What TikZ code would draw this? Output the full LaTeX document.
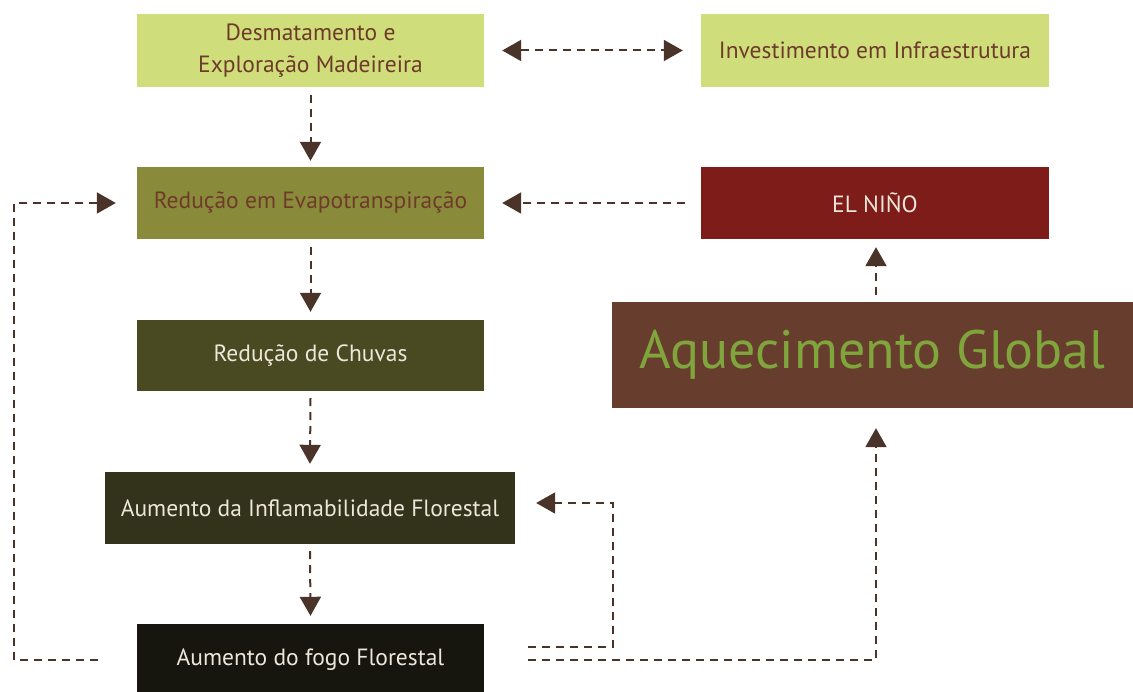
\documentclass[tikz,border=0pt]{standalone}
\usepackage{fontspec}
\setmainfont{PT Sans}
\usetikzlibrary{arrows.meta,calc}
\definecolor{lgreen}{HTML}{CFDD7B}
\definecolor{olive}{HTML}{8A8B3A}
\definecolor{dolive}{HTML}{4A4A22}
\definecolor{ddolive}{HTML}{33321A}
\definecolor{blackish}{HTML}{16160E}
\definecolor{nino}{HTML}{7D1C18}
\definecolor{aqbrown}{HTML}{673D2D}
\definecolor{aqtext}{HTML}{80A53C}
\definecolor{txtbrown}{HTML}{6E3B2A}
\definecolor{arr}{HTML}{4A3328}
\definecolor{ltxt}{HTML}{EDE6DA}
\begin{document}
\begin{tikzpicture}[x=1pt,y=-1pt,
  box/.style={draw=none,minimum width=347pt,minimum height=73pt,inner sep=0pt,align=center,font=\fontsize{23.5}{32}\selectfont},
  conn/.style={draw=arr,line width=2pt,dash pattern=on 8pt off 6pt,-{Triangle[length=19pt,width=21pt]}},
  conn2/.style={draw=arr,line width=2pt,dash pattern=on 8pt off 6pt,{Triangle[length=19pt,width=21pt]}-{Triangle[length=19pt,width=21pt]}}]
\useasboundingbox (0,0) rectangle (1133,692);
\node[box,fill=lgreen,text=txtbrown] (desm) at (310.5,50.5) {Desmatamento e\\Exploração Madeireira};
\node[box,fill=lgreen,text=txtbrown,minimum width=348pt] (inv) at (875,50.5) {Investimento em Infraestrutura};
\node[box,fill=olive,text=txtbrown,minimum height=72pt] (evap) at (310.5,203) {Redução em Evapotranspiração};
\node[box,fill=nino,text=ltxt,minimum width=348pt,minimum height=72pt] (nino) at (875,203) {EL NIÑO};
\node[box,fill=dolive,text=ltxt,minimum height=71pt] (chuv) at (310.5,355.5) {Redução de Chuvas};
\node[box,fill=aqbrown,text=aqtext,minimum width=521pt,minimum height=106pt,font=\fontsize{54}{60}\selectfont] (aq) at (872.5,355) {Aquecimento Global};
\node[box,fill=ddolive,text=ltxt,minimum width=410pt,minimum height=72pt] (infl) at (310,508) {Aumento da Inflamabilidade Florestal};
\node[box,fill=blackish,text=ltxt,minimum height=72pt] (fogo) at (310.5,660) {Aumento do fogo Florestal};
% connectors
\draw[conn2] ($(desm.east)+(18,0)$) -- ($(inv.west)+(-18,0)$);
\draw[conn] ($(desm.south)+(0,8)$) -- ($(evap.north)+(0,-6)$);
\draw[conn] ($(nino.west)+(-16,0)$) -- ($(evap.east)+(18,0)$);
\draw[conn] ($(evap.south)+(0,8)$) -- ($(chuv.north)+(0,-8)$);
\draw[conn] ($(chuv.south)+(0,7)$) -- ($(infl.north)+(0,-8)$);
\draw[conn] ($(infl.south)+(0,7)$) -- ($(fogo.north)+(0,-8)$);
\draw[conn] (876,295) -- ($(nino.south -| 876,0)+(0,8)$);
\coordinate (f1) at ($(fogo.east)+(44,0)$);
\coordinate (f2) at ($(fogo.east)+(44,-13)$);
\coordinate (f3) at ($(fogo.west)+(-39,0)$);
\draw[conn] (f1) -| ($(aq.south -| 876,0)+(0,20)$);
\draw[conn] (f2) -| (613,503) -- ($(infl.east)+(21,-5)$);
\draw[conn] (f3) -| (14,203) -- ($(evap.west)+(-21,0)$);
\end{tikzpicture}
\end{document}
